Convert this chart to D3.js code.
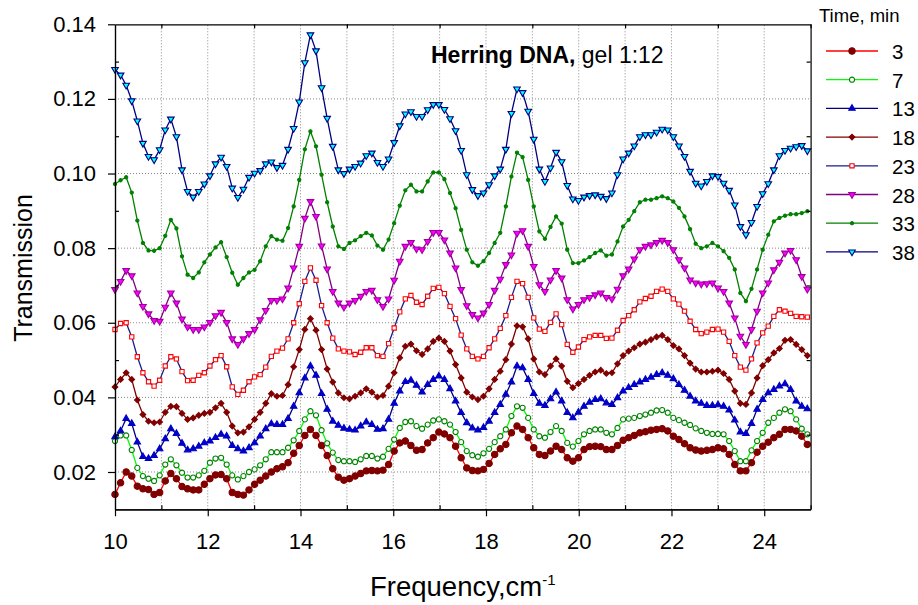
<!DOCTYPE html>
<html lang="en">

<head>
    <meta charset="UTF-8">
    <title>Herring DNA, gel 1:12</title>
    <script src="https://d3js.org/d3.v7.min.js"></script>
    <style>
        body { margin: 0; background: #fff; }
        svg { font-family: "Liberation Sans", Arial, sans-serif; }
    </style>
</head>

<body>
    <svg width="918" height="605" class="chart"></svg>
</body>

<script>
    // frequency grid of the measurement (cm-1)
    var freqStart = 10;
    var freqStep = 0.1204;

    // legend: time, min
    var times = [3, 7, 13, 18, 23, 28, 33, 38];

    // transmission, one array per time
    var s3 = [.0140, .0171, .0200, .0189, .0162, .0155, .0153, .0140, .0145, .0176,
        .0196, .0182, .0161, .0155, .0152, .0152, .0167, .0182, .0192, .0193,
        .0182, .0145, .0140, .0138, .0152, .0167, .0178, .0189, .0200, .0209,
        .0214, .0225, .0250, .0271, .0298, .0314, .0298, .0271, .0244, .0209,
        .0186, .0178, .0182, .0189, .0196, .0203, .0204, .0203, .0205, .0220,
        .0256, .0278, .0283, .0271, .0258, .0260, .0278, .0292, .0307, .0302,
        .0292, .0269, .0238, .0211, .0204, .0203, .0207, .0223, .0247, .0262,
        .0274, .0305, .0323, .0314, .0292, .0265, .0247, .0244, .0256, .0269,
        .0260, .0238, .0229, .0238, .0260, .0268, .0269, .0268, .0260, .0260,
        .0271, .0285, .0292, .0298, .0305, .0308, .0312, .0314, .0316, .0310,
        .0296, .0287, .0276, .0265, .0259, .0256, .0258, .0260, .0265, .0262,
        .0247, .0220, .0203, .0203, .0225, .0253, .0269, .0280, .0292, .0301,
        .0314, .0314, .0310, .0296, .0274];

    var s7 = [.0283, .0298, .0298, .0259, .0211, .0189, .0182, .0176, .0191, .0220,
        .0234, .0218, .0198, .0185, .0185, .0191, .0203, .0225, .0236, .0238,
        .0220, .0191, .0180, .0189, .0200, .0207, .0218, .0234, .0253, .0253,
        .0253, .0265, .0285, .0310, .0341, .0363, .0352, .0312, .0277, .0252,
        .0232, .0229, .0229, .0227, .0234, .0243, .0243, .0236, .0241, .0262,
        .0287, .0318, .0334, .0336, .0323, .0316, .0327, .0338, .0341, .0336,
        .0327, .0307, .0280, .0256, .0245, .0241, .0250, .0262, .0280, .0296,
        .0314, .0350, .0376, .0372, .0345, .0314, .0296, .0292, .0307, .0323,
        .0310, .0278, .0268, .0283, .0301, .0310, .0314, .0314, .0305, .0301,
        .0318, .0341, .0343, .0345, .0350, .0354, .0359, .0365, .0366, .0359,
        .0345, .0339, .0332, .0326, .0317, .0310, .0305, .0302, .0302, .0301,
        .0283, .0256, .0229, .0229, .0258, .0283, .0305, .0332, .0345, .0359,
        .0368, .0363, .0341, .0316, .0301];

    var s13 = [.0294, .0310, .0343, .0330, .0280, .0241, .0236, .0244, .0262, .0289,
        .0316, .0303, .0277, .0259, .0262, .0269, .0278, .0283, .0292, .0301,
        .0296, .0271, .0262, .0256, .0265, .0278, .0296, .0316, .0329, .0327,
        .0327, .0343, .0376, .0412, .0452, .0484, .0459, .0410, .0368, .0336,
        .0325, .0317, .0314, .0312, .0323, .0334, .0327, .0314, .0316, .0341,
        .0384, .0417, .0442, .0446, .0432, .0414, .0434, .0448, .0457, .0448,
        .0423, .0390, .0359, .0332, .0318, .0312, .0319, .0336, .0359, .0381,
        .0408, .0441, .0484, .0479, .0448, .0410, .0384, .0378, .0396, .0414,
        .0390, .0359, .0345, .0360, .0376, .0387, .0394, .0396, .0385, .0381,
        .0399, .0417, .0426, .0434, .0441, .0448, .0454, .0461, .0466, .0459,
        .0450, .0434, .0419, .0403, .0390, .0384, .0378, .0378, .0380, .0376,
        .0366, .0339, .0307, .0303, .0330, .0368, .0394, .0412, .0421, .0430,
        .0436, .0421, .0390, .0376, .0369];

    var s18 = [.0428, .0448, .0466, .0448, .0393, .0354, .0336, .0332, .0334, .0360,
        .0376, .0375, .0357, .0341, .0345, .0352, .0357, .0360, .0372, .0384,
        .0360, .0323, .0305, .0307, .0321, .0341, .0360, .0384, .0410, .0403,
        .0405, .0434, .0482, .0528, .0582, .0611, .0580, .0528, .0476, .0441,
        .0412, .0399, .0396, .0403, .0412, .0423, .0414, .0401, .0405, .0430,
        .0466, .0506, .0537, .0543, .0525, .0515, .0530, .0550, .0559, .0550,
        .0524, .0488, .0452, .0414, .0401, .0394, .0403, .0423, .0448, .0470,
        .0501, .0543, .0592, .0589, .0557, .0503, .0468, .0461, .0484, .0503,
        .0484, .0443, .0426, .0437, .0448, .0459, .0468, .0473, .0464, .0466,
        .0490, .0512, .0524, .0533, .0543, .0548, .0555, .0562, .0566, .0555,
        .0539, .0530, .0512, .0492, .0476, .0468, .0468, .0470, .0473, .0464,
        .0448, .0417, .0384, .0381, .0412, .0452, .0485, .0501, .0519, .0531,
        .0553, .0555, .0542, .0528, .0512];

    var s23 = [.0582, .0598, .0600, .0562, .0509, .0466, .0442, .0430, .0446, .0484,
        .0509, .0503, .0469, .0445, .0446, .0459, .0466, .0484, .0501, .0512,
        .0482, .0428, .0408, .0419, .0442, .0455, .0461, .0481, .0510, .0524,
        .0532, .0557, .0600, .0651, .0711, .0747, .0714, .0646, .0600, .0559,
        .0530, .0524, .0522, .0515, .0521, .0533, .0533, .0512, .0510, .0544,
        .0586, .0629, .0664, .0673, .0655, .0649, .0671, .0692, .0695, .0678,
        .0644, .0611, .0567, .0530, .0510, .0503, .0510, .0533, .0557, .0585,
        .0619, .0668, .0711, .0705, .0668, .0613, .0583, .0577, .0601, .0624,
        .0595, .0542, .0521, .0535, .0555, .0562, .0566, .0566, .0558, .0559,
        .0580, .0606, .0619, .0635, .0656, .0665, .0671, .0684, .0690, .0684,
        .0664, .0650, .0631, .0604, .0582, .0571, .0575, .0582, .0583, .0575,
        .0550, .0512, .0481, .0473, .0503, .0546, .0573, .0591, .0617, .0635,
        .0631, .0625, .0617, .0616, .0615];

    var s28 = [.0689, .0711, .0740, .0726, .0680, .0644, .0624, .0606, .0604, .0642,
        .0680, .0653, .0610, .0589, .0582, .0582, .0589, .0601, .0619, .0628,
        .0601, .0557, .0542, .0557, .0571, .0582, .0608, .0633, .0660, .0660,
        .0664, .0693, .0747, .0805, .0880, .0925, .0885, .0806, .0744, .0684,
        .0653, .0642, .0653, .0660, .0671, .0684, .0687, .0662, .0644, .0664,
        .0714, .0765, .0805, .0815, .0798, .0796, .0818, .0842, .0842, .0822,
        .0787, .0747, .0689, .0646, .0622, .0613, .0626, .0649, .0687, .0717,
        .0756, .0782, .0840, .0847, .0805, .0751, .0702, .0684, .0715, .0740,
        .0720, .0662, .0637, .0649, .0662, .0668, .0675, .0680, .0668, .0664,
        .0690, .0726, .0744, .0771, .0796, .0805, .0809, .0815, .0821, .0815,
        .0796, .0769, .0747, .0715, .0707, .0704, .0705, .0707, .0693, .0684,
        .0653, .0613, .0564, .0542, .0582, .0631, .0680, .0707, .0742, .0762,
        .0787, .0794, .0769, .0724, .0690];

    var s33 = [.0972, .0982, .0990, .0949, .0874, .0814, .0794, .0793, .0800, .0833,
        .0876, .0853, .0778, .0729, .0720, .0735, .0762, .0783, .0802, .0816,
        .0776, .0734, .0702, .0720, .0735, .0742, .0765, .0805, .0832, .0823,
        .0820, .0854, .0912, .0983, .1065, .1113, .1073, .0997, .0923, .0858,
        .0805, .0798, .0814, .0821, .0832, .0841, .0834, .0807, .0796, .0823,
        .0867, .0914, .0955, .0970, .0952, .0952, .0979, .1003, .1003, .0985,
        .0948, .0907, .0849, .0796, .0762, .0753, .0765, .0787, .0814, .0841,
        .0912, .0992, .1056, .1044, .0983, .0912, .0845, .0825, .0857, .0885,
        .0866, .0796, .0760, .0760, .0767, .0776, .0787, .0794, .0780, .0783,
        .0818, .0858, .0876, .0899, .0923, .0930, .0930, .0934, .0939, .0934,
        .0925, .0908, .0885, .0851, .0812, .0800, .0805, .0814, .0805, .0792,
        .0774, .0743, .0680, .0658, .0691, .0743, .0796, .0836, .0872, .0881,
        .0887, .0891, .0891, .0894, .0899];

    var s38 = [.1279, .1264, .1237, .1195, .1141, .1081, .1046, .1037, .1064, .1117,
        .1146, .1099, .1010, .0952, .0937, .0952, .0972, .0994, .1026, .1044,
        .1019, .0961, .0936, .0958, .0990, .1001, .1008, .1026, .1031, .1016,
        .1022, .1065, .1121, .1192, .1297, .1372, .1329, .1230, .1148, .1073,
        .1010, .1000, .1012, .1019, .1028, .1048, .1055, .1030, .1019, .1039,
        .1083, .1128, .1160, .1166, .1153, .1153, .1171, .1185, .1185, .1172,
        .1147, .1115, .1062, .0997, .0957, .0941, .0948, .0970, .0994, .1012,
        .1065, .1161, .1227, .1217, .1167, .1092, .1012, .0979, .1015, .1057,
        .1032, .0968, .0932, .0928, .0937, .0941, .0943, .0939, .0933, .0948,
        .0997, .1039, .1055, .1074, .1099, .1104, .1104, .1111, .1119, .1117,
        .1099, .1074, .1046, .1006, .0974, .0967, .0979, .0994, .0992, .0974,
        .0955, .0916, .0858, .0836, .0869, .0912, .0946, .0973, .1010, .1048,
        .1062, .1068, .1072, .1075, .1061];

    // tick labels
    var xTicks = [10, 12, 14, 16, 18, 20, 22, 24];
    var xMinor = [11, 13, 15, 17, 19, 21, 23, 25];
    var yTicks = [0.02, 0.04, 0.06, 0.08, 0.10, 0.12, 0.14];
    var yMinor = [0.03, 0.05, 0.07, 0.09, 0.11, 0.13];

    var series = [s3, s7, s13, s18, s23, s28, s33, s38];
    var freq = s3.map(function (d, i) { return freqStart + freqStep * i; });

    // line colour, marker shape, marker fill, marker stroke, marker size, rotation
    var looks = [
        { line: '#ff0000', type: d3.symbolCircle, fill: '#800000', stroke: '#800000', size: 32, rot: 0 },
        { line: '#00ff00', type: d3.symbolCircle, fill: '#ffffff', stroke: '#008000', size: 21, rot: 0 },
        { line: '#000080', type: d3.symbolTriangle, fill: '#0000c8', stroke: '#0000c8', size: 18, rot: 0 },
        { line: '#800000', type: d3.symbolSquare, fill: '#800000', stroke: '#800000', size: 16, rot: 45 },
        { line: '#1c1c8c', type: d3.symbolSquare, fill: '#ffffff', stroke: '#ff0000', size: 18, rot: 0 },
        { line: '#800080', type: d3.symbolTriangle, fill: '#ff00ff', stroke: '#a000a0', size: 19, rot: 180 },
        { line: '#008000', type: d3.symbolCircle, fill: '#008000', stroke: '#008000', size: 8, rot: 0 },
        { line: '#000080', type: d3.symbolTriangle, fill: '#00ffff', stroke: '#000080', size: 19, rot: 180 }
    ];

    var svg = d3.select('.chart');

    // scales
    var x = d3.scaleLinear().domain([10, 25]).range([115, 810.6]);
    var y = d3.scaleLinear().domain([0.01, 0.14]).range([509.3, 24.3]);

    // dotted grid
    var grid = svg.append('g')
        .attr('stroke', '#888')
        .attr('stroke-width', 1)
        .attr('stroke-dasharray', '1,2');
    grid.selectAll('.gx')
        .data(d3.range(11, 25))
        .enter()
        .append('line')
        .attr('x1', function (d) { return x(d); })
        .attr('x2', function (d) { return x(d); })
        .attr('y1', y(0.01))
        .attr('y2', y(0.14));
    grid.selectAll('.gy')
        .data(yTicks.slice(0, 6))
        .enter()
        .append('line')
        .attr('x1', x(10))
        .attr('x2', x(25))
        .attr('y1', function (d) { return y(d); })
        .attr('y2', function (d) { return y(d); });

    // series: line then markers
    var line = d3.line()
        .x(function (d, i) { return x(freq[i]); })
        .y(function (d) { return y(d); });

    series.forEach(function (s, k) {
        var lk = looks[k];
        var g = svg.append('g');
        g.append('path')
            .datum(s)
            .attr('d', line)
            .attr('fill', 'none')
            .attr('stroke', lk.line)
            .attr('stroke-width', 1.3);
        var sym = d3.symbol().type(lk.type).size(lk.size);
        g.selectAll('path.m')
            .data(s)
            .enter()
            .append('path')
            .attr('class', 'm')
            .attr('d', sym)
            .attr('transform', function (d, i) {
                return 'translate(' + x(freq[i]) + ',' + y(d) + ') rotate(' + lk.rot + ')';
            })
            .attr('fill', lk.fill)
            .attr('stroke', lk.stroke)
            .attr('stroke-width', 1.1);
    });

    // axes
    var bottom = svg.append('g')
        .attr('transform', 'translate(0,' + y(0.01) + ')')
        .call(d3.axisBottom(x).tickValues(xTicks).tickSize(7).tickSizeOuter(0).tickPadding(17));
    svg.append('g')
        .attr('transform', 'translate(0,' + y(0.01) + ')')
        .call(d3.axisBottom(x).tickValues(xMinor).tickSize(-4).tickSizeOuter(0).tickFormat(''));
    svg.append('g')
        .attr('transform', 'translate(0,' + y(0.14) + ')')
        .call(d3.axisTop(x).tickValues(xMinor).tickSize(-4).tickSizeOuter(0).tickFormat(''));

    var left = svg.append('g')
        .attr('transform', 'translate(' + x(10) + ',0)')
        .call(d3.axisLeft(y).tickValues(yTicks).tickSize(7).tickSizeOuter(0).tickPadding(12)
            .tickFormat(d3.format('.2f')));
    svg.append('g')
        .attr('transform', 'translate(' + x(10) + ',0)')
        .call(d3.axisLeft(y).tickValues(yMinor).tickSize(-4).tickSizeOuter(0).tickFormat(''));
    svg.append('g')
        .attr('transform', 'translate(' + x(25) + ',0)')
        .call(d3.axisRight(y).tickValues(yMinor).tickSize(-4).tickSizeOuter(0).tickFormat(''));

    svg.selectAll('.domain, .tick line').attr('stroke', '#000').attr('stroke-width', 1.2);
    bottom.selectAll('text').attr('font-size', 22).attr('font-family', null).attr('fill', '#000');
    left.selectAll('text').attr('font-size', 22).attr('font-family', null).attr('fill', '#000');

    // axis titles
    svg.append('text')
        .attr('transform', 'translate(32,268) rotate(-90)')
        .attr('text-anchor', 'middle')
        .attr('font-size', 25)
        .text('Transmission');

    var xt = svg.append('text')
        .attr('x', 370)
        .attr('y', 596)
        .attr('font-size', 27.5);
    xt.append('tspan').text('Frequency,cm');
    xt.append('tspan').attr('font-size', 15).attr('dy', -11).text('-1');

    // title inside the plot
    var tt = svg.append('text')
        .attr('x', 431)
        .attr('y', 63)
        .attr('font-size', 23);
    tt.append('tspan').attr('font-weight', 'bold').text('Herring DNA,');
    tt.append('tspan').text(' gel 1:12');

    // legend
    var legend = svg.append('g');
    legend.append('text')
        .attr('x', 819)
        .attr('y', 22)
        .attr('font-size', 18.5)
        .text('Time, min');

    var rows = legend.selectAll('.row')
        .data(times)
        .enter()
        .append('g')
        .attr('transform', function (d, i) { return 'translate(0,' + (51 + 28.7 * i) + ')'; });
    rows.append('line')
        .attr('x1', 826)
        .attr('x2', 878)
        .attr('stroke', function (d, i) { return looks[i].line; })
        .attr('stroke-width', 1.3);
    rows.append('path')
        .attr('d', function (d, i) { return d3.symbol().type(looks[i].type).size(looks[i].size)(); })
        .attr('transform', function (d, i) { return 'translate(852,0) rotate(' + looks[i].rot + ')'; })
        .attr('fill', function (d, i) { return looks[i].fill; })
        .attr('stroke', function (d, i) { return looks[i].stroke; })
        .attr('stroke-width', 1.1);
    rows.append('text')
        .attr('x', 892)
        .attr('y', 8)
        .attr('font-size', 20.5)
        .text(function (d) { return d; });
</script>

</html>
